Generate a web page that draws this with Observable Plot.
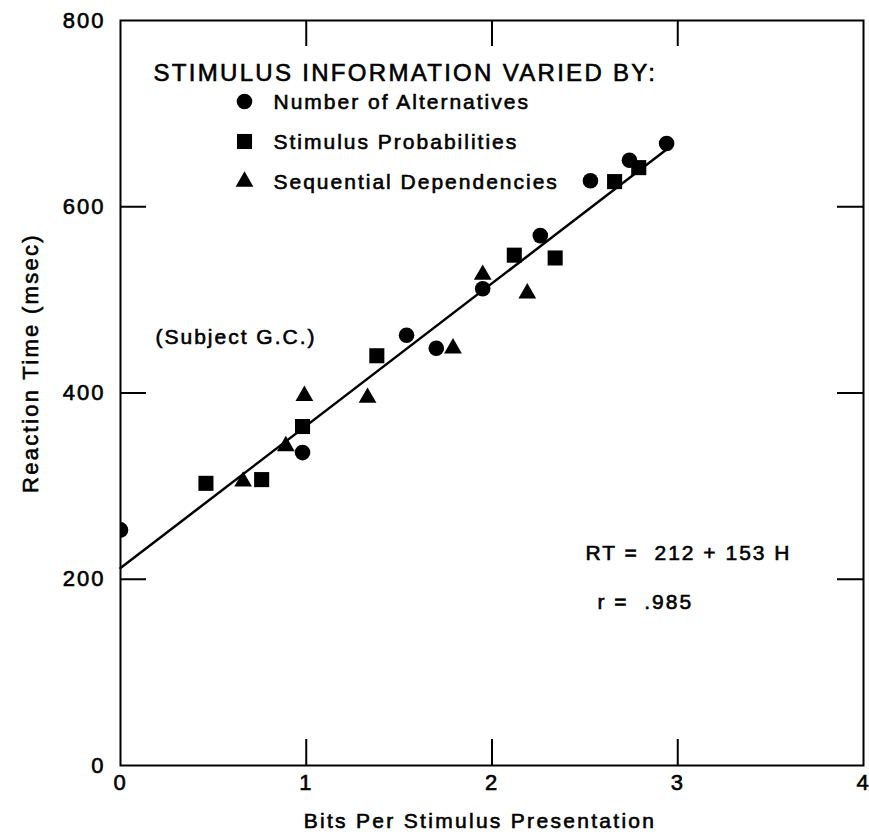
<!DOCTYPE html>
<html>
<head>
<meta charset="utf-8">
<script src="https://cdn.jsdelivr.net/npm/d3@7"></script>
<script src="https://cdn.jsdelivr.net/npm/@observablehq/plot@0.6"></script>
<style>
  body { margin: 0; background: #fff; }
  #chart svg text { white-space: pre; letter-spacing: 2px; stroke: #000; stroke-width: 0.6px; }
  #chart svg .wide text { letter-spacing: 2.3px; }
</style>
</head>
<body>
<div id="chart"></div>
<script>
// ---- tick values and labels ----
const xTickValues = [0, 1, 2, 3, 4];
const xTickLabels = ["0", "1", "2", "3", "4"];
const yTickValues = [0, 200, 400, 600, 800];
const yTickLabels = ["0", "200", "400", "600", "800"];
const innerXTicks = [1, 2, 3];
const innerYTicks = [200, 400, 600];

// ---- series: Number of Alternatives (circles) ----
const alternativesH  = [0, 0.98, 1.54, 1.70, 1.95, 2.26, 2.53, 2.74, 2.94];
const alternativesRT = [253, 336, 462, 448, 512, 569, 628, 650, 668];

// ---- series: Stimulus Probabilities (squares) ----
const probabilitiesH  = [0.46, 0.76, 0.98, 1.38, 2.12, 2.34, 2.66, 2.79];
const probabilitiesRT = [303, 307, 364, 440, 548, 545, 627, 642];

// ---- series: Sequential Dependencies (triangles) ----
const dependenciesH  = [0.66, 0.89, 0.99, 1.33, 1.79, 1.95, 2.19];
const dependenciesRT = [305, 343, 397, 395, 448, 527, 507];

// ---- fitted line RT = 212 + 153 H ----
const fitH  = [0, 2.95];
const fitRT = [212, 663];

// ---- texts ----
const legendTitle = "STIMULUS INFORMATION VARIED BY:";
const legendLabels = ["Number of Alternatives", "Stimulus Probabilities", "Sequential Dependencies"];
const legendSymbols = ["circle", "square", "triangle"];
const subjectNote = "(Subject G.C.)";
const equationText = "RT =  212 + 153 H";
const correlationText = "r =  .985";
const xTitle = "Bits Per Stimulus Presentation";
const yTitle = "Reaction Time (msec)";

const toRows = (hs, rts) => hs.map((h, i) => ({h, rt: rts[i]}));
const alternatives = toRows(alternativesH, alternativesRT);
const probabilities = toRows(probabilitiesH, probabilitiesRT);
const dependencies = toRows(dependenciesH, dependenciesRT);
const fit = toRows(fitH, fitRT);

const symbolR = {circle: 7.8, square: 8.5, triangle: 6.6};

const W = 869, H = 835;
const mL = 120, mR = 6, mT = 20, mB = 70;
const frameW = W - mL - mR, frameH = H - mT - mB;
const tickLen = 26;

const legendMarks = legendLabels.flatMap((label, i) => [
  Plot.dot([label], {frameAnchor: "top-left", dx: 124, dy: 81 + 40 * i, symbol: legendSymbols[i], r: symbolR[legendSymbols[i]], fill: "black", stroke: "none"}),
  Plot.text([label], {frameAnchor: "top-left", dx: 153, dy: 82 + 40 * i, text: d => d, textAnchor: "start", lineAnchor: "middle", fontSize: 21})
]);

const chart = Plot.plot({
  width: W,
  height: H,
  marginLeft: mL, marginRight: mR, marginTop: mT, marginBottom: mB,
  x: {domain: [0, 4], axis: null},
  y: {domain: [0, 800], axis: null},
  style: {fontFamily: "'Liberation Sans', Arial, Helvetica, sans-serif", color: "black", background: "white", overflow: "visible"},
  marks: [
    Plot.frame({stroke: "black", strokeWidth: 2}),
    // inner ticks
    Plot.tickY(innerYTicks, {y: d => d, insetRight: frameW - tickLen, stroke: "black", strokeWidth: 2}),
    Plot.tickY(innerYTicks, {y: d => d, insetLeft: frameW - tickLen, stroke: "black", strokeWidth: 2}),
    Plot.tickX(innerXTicks, {x: d => d, insetTop: frameH - tickLen, stroke: "black", strokeWidth: 2}),
    Plot.tickX(innerXTicks, {x: d => d, insetBottom: frameH - tickLen, stroke: "black", strokeWidth: 2}),
    // tick labels
    Plot.text(yTickValues, {y: d => d, text: (d, i) => yTickLabels[i], frameAnchor: "left", dx: -15, textAnchor: "end", lineAnchor: "middle", fontSize: 22}),
    Plot.text(xTickValues, {x: d => d, text: (d, i) => xTickLabels[i], frameAnchor: "bottom", dy: 17, textAnchor: "middle", lineAnchor: "middle", fontSize: 22}),
    // axis titles
    Plot.text([xTitle], {frameAnchor: "bottom", dx: -12, dy: 56, text: d => d, textAnchor: "middle", lineAnchor: "middle", fontSize: 21, className: "wide"}),
    Plot.text([yTitle], {frameAnchor: "left", dx: -90, dy: -30, rotate: -90, text: d => d, textAnchor: "middle", lineAnchor: "middle", fontSize: 22, className: "wide"}),
    // fitted line
    Plot.line(fit, {x: "h", y: "rt", stroke: "black", strokeWidth: 2.5}),
    // data points
    Plot.dot(alternatives, {x: "h", y: "rt", symbol: "circle", r: symbolR.circle, fill: "black", stroke: "none", clip: true}),
    Plot.dot(probabilities, {x: "h", y: "rt", symbol: "square", r: symbolR.square, fill: "black", stroke: "none", clip: true}),
    Plot.dot(dependencies, {x: "h", y: "rt", symbol: "triangle", r: symbolR.triangle, fill: "black", stroke: "none", clip: true}),
    // legend
    Plot.text([legendTitle], {frameAnchor: "top-left", dx: 33, dy: 53, text: d => d, textAnchor: "start", lineAnchor: "middle", fontSize: 24, className: "wide"}),
    ...legendMarks,
    // annotations
    Plot.text([subjectNote], {frameAnchor: "top-left", dx: 35, dy: 317, text: d => d, textAnchor: "start", lineAnchor: "middle", fontSize: 21}),
    Plot.text([equationText], {frameAnchor: "top-left", dx: 465, dy: 533, text: d => d, textAnchor: "start", lineAnchor: "middle", fontSize: 21}),
    Plot.text([correlationText], {frameAnchor: "top-left", dx: 477, dy: 582, text: d => d, textAnchor: "start", lineAnchor: "middle", fontSize: 21})
  ]
});

document.getElementById("chart").append(chart);
</script>
</body>
</html>
